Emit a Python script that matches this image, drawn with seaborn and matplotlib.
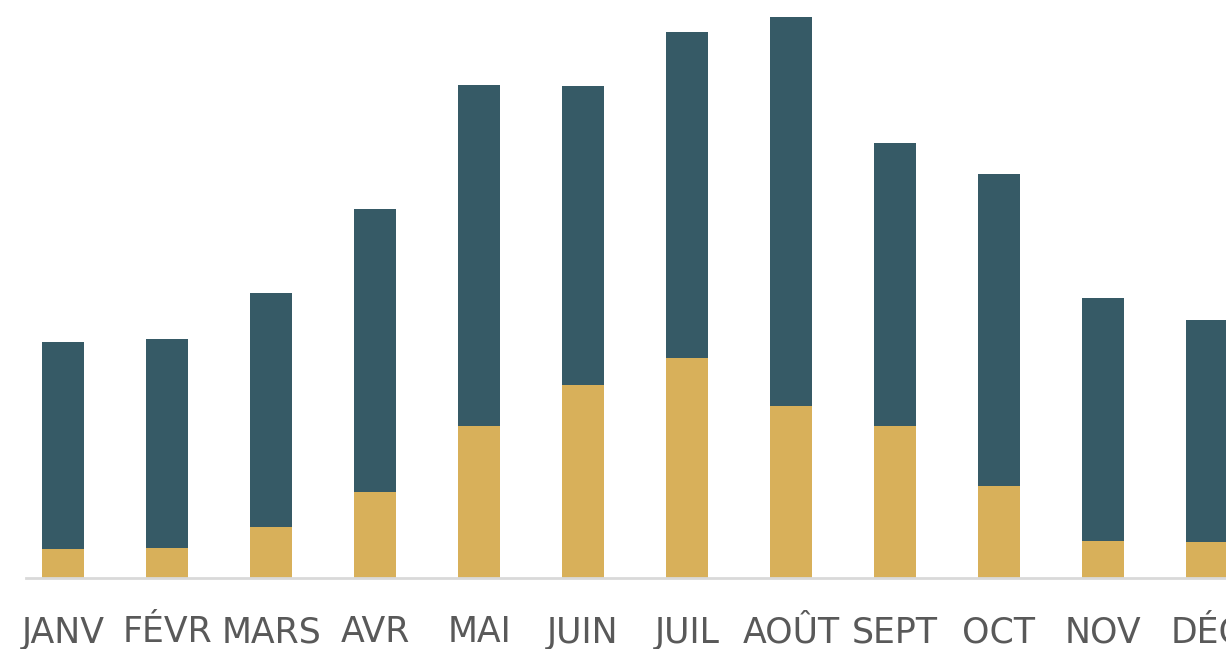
import matplotlib
matplotlib.use("Agg")
import matplotlib.pyplot as plt
import seaborn as sns
import pandas as pd

# ---------------- Data (arbitrary units) ----------------
months = ["JANV", "FÉVR", "MARS", "AVR", "MAI", "JUIN",
          "JUIL", "AOÛT", "SEPT", "OCT", "NOV", "DÉC"]
gold_part = [29, 30, 51, 86, 152, 193, 220, 172, 152, 92, 37, 36]
teal_part = [207, 209, 234, 283, 341, 299, 326, 389, 283, 312, 243, 222]

totals = [g + t for g, t in zip(gold_part, teal_part)]
df = pd.DataFrame({"month": months, "gold": gold_part, "total": totals})

TEAL = "#365A66"
GOLD = "#D8B05A"

sns.set_style("white")
plt.rcParams["font.family"] = ["DejaVu Sans"]

fig = plt.figure(figsize=(12.26, 6.49), dpi=100)
ax = fig.add_axes([26 / 1226, 71 / 649, 1 - 26 / 1226, 578 / 649])

# total height first (teal), then the gold share drawn over its lower part
sns.barplot(data=df, x="month", y="total", order=months, color=TEAL,
            width=0.4, saturation=1, linewidth=0, ax=ax)
sns.barplot(data=df, x="month", y="gold", order=months, color=GOLD,
            width=0.4, saturation=1, linewidth=0, ax=ax)

ax.set_xlim(-0.356, 11.183)
ax.set_ylim(0, 578)
ax.set_xlabel("")
ax.set_ylabel("")
ax.set_yticks([])
for side in ["top", "right", "left"]:
    ax.spines[side].set_visible(False)
ax.spines["bottom"].set_color("#d9d9d9")
ax.spines["bottom"].set_linewidth(2)
ax.tick_params(axis="x", length=0, pad=27, labelsize=25, labelcolor="#595959")

fig.savefig("out.png", dpi=100)
